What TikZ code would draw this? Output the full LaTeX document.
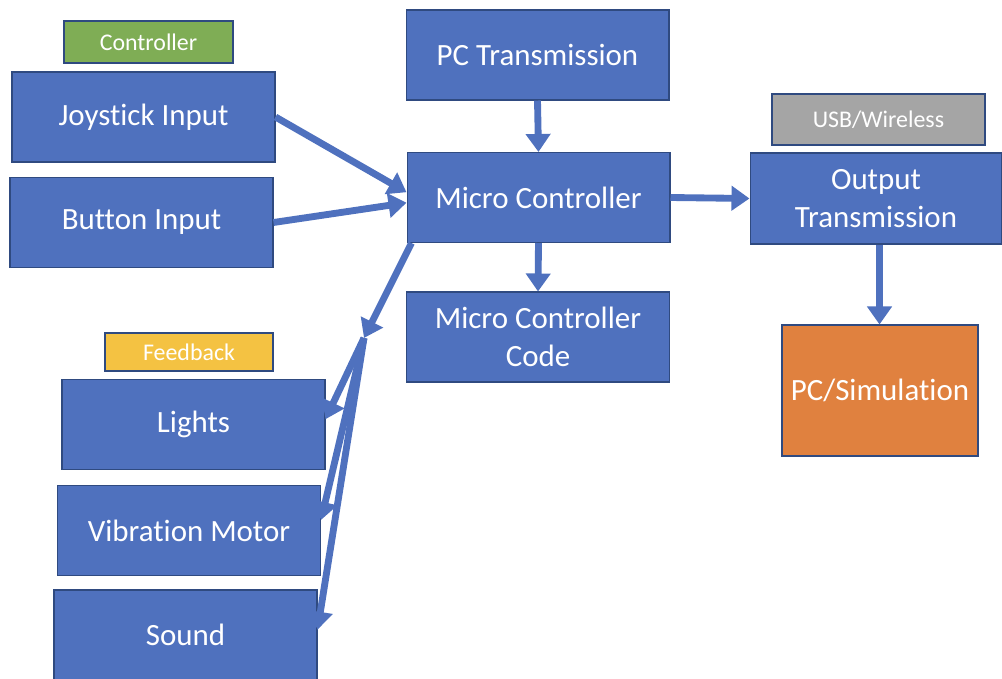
\documentclass[tikz,border=0pt]{standalone}
\usepackage{fontspec}
\setmainfont{Carlito}[Ligatures=NoCommon]
\usetikzlibrary{arrows.meta}
\definecolor{boxblue}{HTML}{4F71BE}
\definecolor{boxedge}{HTML}{2F4A80}
\definecolor{tagred}{HTML}{7FAD55}
\definecolor{taggray}{HTML}{A5A5A5}
\definecolor{tagyellow}{HTML}{F4C242}
\definecolor{simorange}{HTML}{E0813F}
\tikzset{
  block/.style={draw=boxedge, line width=0.6pt, fill=boxblue, text=white,
    font=\fontsize{17.6}{21.5}\selectfont, align=center, inner sep=2pt,
    minimum width=5.26cm, minimum height=1.8cm},
  tag/.style={draw=boxedge, line width=0.6pt, text=white,
    font=\fontsize{13.6}{15}\selectfont, inner sep=2pt},
  link/.style={draw=boxblue, line width=3.9pt,
    -{Triangle[length=0.36cm,width=0.48cm]}}
}
\begin{document}
\begin{tikzpicture}[x=0.02cm,y=-0.02cm]
    \useasboundingbox (0,0) rectangle (1002,679);
    \node[tag, fill=tagred, minimum width=3.38cm, minimum height=0.84cm] (ctrltag) at (148.5,42) {Controller};
    \node[block] (joy) at (143.5,117) {Joystick Input};
    \node[block] (btn) at (141.5,222.5) {Button Input};
    \node[block] (pctx) at (537.5,55) {PC Transmission};
    \node[block] (mc) at (538.5,197.5) {Micro Controller};
    \node[block] (code) at (538,337) {Micro Controller\\Code};
    \node[tag, fill=taggray, minimum width=4.26cm, minimum height=1.02cm] (usbtag) at (878.5,119.5) {USB/Wireless};
    \node[block, minimum width=5.04cm, minimum height=1.82cm] (out) at (876,198.5) {Output\\Transmission};
    \node[block, fill=simorange, minimum width=3.92cm, minimum height=2.62cm] (sim) at (880,390.5) {PC/Simulation};
    \node[tag, fill=tagyellow, minimum width=3.36cm, minimum height=0.76cm] (fbtag) at (189,352) {Feedback};
    \node[block] (lights) at (193.5,424.5) {Lights};
    \node[block] (vib) at (189,530.5) {Vibration Motor};
    \node[block] (sound) at (185.5,635) {Sound};
    \coordinate (split) at (364,338);
    \draw[link] (joy.east) -- ([yshift=3pt]mc.west);
    \draw[link] (btn.east) -- ([yshift=-3pt]mc.west);
    \draw[link] (pctx.south) -- (mc.north);
    \draw[link] (mc.south) -- (code.north);
    \draw[link] (mc.east) -- (out.west);
    \draw[link] ([xshift=2pt]out.south) -- ([xshift=2pt]out.south |- sim.north);
    \draw[link] ([xshift=0.1cm]mc.south west) -- (split);
    \draw[link] (split) -- ([yshift=3pt]lights.east);
    \draw[link] (split) -- ([yshift=6pt]vib.east);
    \draw[link] (split) -- ([yshift=3pt]sound.east);
\end{tikzpicture}
\end{document}
